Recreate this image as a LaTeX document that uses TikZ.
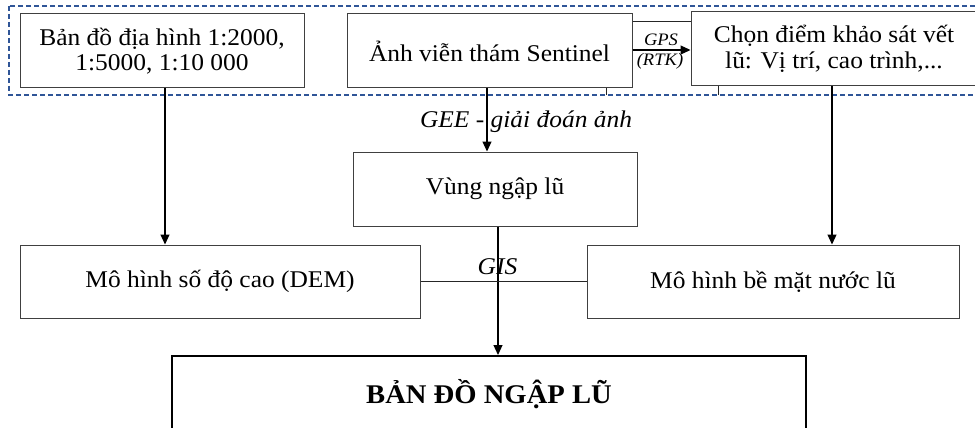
\documentclass[tikz,border=0pt]{standalone}
\usepackage{fontspec}
\setmainfont{Liberation Serif}[FakeStretch=1.06]
\usetikzlibrary{arrows.meta}
\begin{document}
\begin{tikzpicture}[x=1pt,y=-1pt,
  box/.style={draw=black!75,line width=1pt,inner sep=0pt,align=center,font=\fontsize{24}{25.5}\selectfont},
  lbl/.style={inner sep=0pt,font=\fontsize{24}{25}\selectfont\itshape},
  sm/.style={inner sep=0pt,font=\fontsize{17.5}{18}\selectfont\itshape},
  ln/.style={draw=black!85,line width=1pt},
  arr/.style={draw=black,line width=1.2pt,-{Triangle[length=10pt,width=9pt]}},
  grp/.style={draw=blue!50!black!70!cyan!20!blue,line width=1.4pt,dash pattern=on 5pt off 3pt}]
\clip (0,0) rectangle (975,428);
\useasboundingbox (0,0) rectangle (975,428);
\fill[white] (0,0) rectangle (975,428);
% group frame
\draw[grp,draw={rgb,255:red,47;green,85;blue,151}] (9,6) rectangle (995,95);
% nodes
\node[box,minimum width=284pt,minimum height=74pt] (src1) at (162,51) {Bản đồ địa hình 1:2000,\\1:5000, 1:10 000};
\node[box,minimum width=285pt,minimum height=74pt] (src2) at (489.5,51) {Ảnh viễn thám Sentinel};
\node[box,minimum width=286pt,minimum height=74pt] (src3) at (834,49) {Chọn điểm khảo sát vết\\lũ: Vị trí, cao trình,...};
\node[box,minimum width=284pt,minimum height=74pt] (vung) at (495,189) {Vùng ngập lũ};
\node[box,minimum width=400pt,minimum height=73pt] (dem) at (220,281.5) {Mô hình số độ cao (DEM)};
\node[box,minimum width=372pt,minimum height=73pt] (mhbm) at (773,281.5) {Mô hình bề mặt nước lũ};
\node[draw=black,line width=2pt,inner sep=0pt,minimum width=634pt,minimum height=76pt,font=\fontsize{27}{28}\selectfont\bfseries] (bd) at (489,394) {BẢN ĐỒ NGẬP LŨ};
% small connector stubs to the group frame
\coordinate (g1) at (606,95);
\coordinate (g2) at (718,95);
\draw[ln] (src2.south -| g1) -- (g1);
\draw[ln] (src3.south -| g2) -- (g2);
% connectors
\draw[arr] ([xshift=3pt]src1.south) -- ([xshift=3pt]src1.south |- dem.north);
\draw[arr] ([xshift=-2.5pt]src2.south) -- ([xshift=-2.5pt]src2.south |- vung.north);
\draw[arr] ([xshift=-2pt]src3.south) -- ([xshift=-2pt]src3.south |- mhbm.north);
\draw[arr] ([xshift=3pt]vung.south) -- ([xshift=3pt]vung.south |- bd.north);
\draw[ln] (dem.east) -- (mhbm.west);
\draw[ln] ([yshift=29pt]src2.east) -- ([yshift=29pt]src2.east -| src3.west);
\draw[arr] ([yshift=1pt]src2.east) -- ([yshift=1pt]src2.east -| src3.west);
% labels
\node[lbl] (gee) at (526,122) {GEE - giải đoán ảnh};
\node[sm] (gps) at (661,40) {GPS};
\node[sm] (rtk) at (660,61) {(RTK)};
\node[lbl] (gis) at (497.5,267) {GIS};
\end{tikzpicture}
\end{document}
